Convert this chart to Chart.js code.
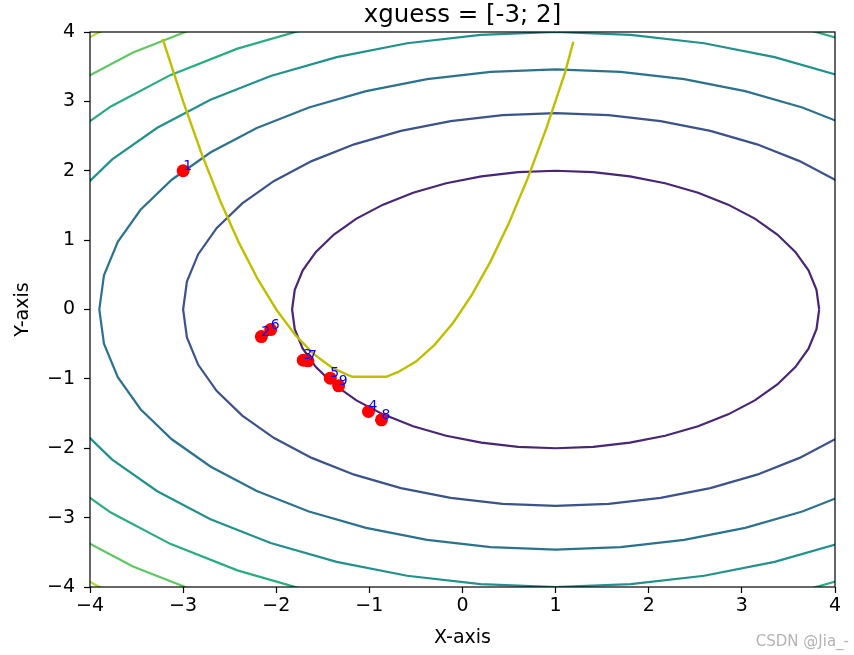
<!DOCTYPE html>
<html>
<head>
<meta charset="utf-8">
<script src="https://cdn.jsdelivr.net/npm/chart.js@4"></script>
<style>
html,body{margin:0;padding:0;background:#fff;}
#wrap{width:854px;height:655px;position:relative;}
</style>
</head>
<body>
<div id="wrap"><canvas id="c" width="854" height="655"></canvas></div>
<script>
// ---- data ----
const titleText = "xguess = [-3; 2]";
const xTicks = [-4, -3, -2, -1, 0, 1, 2, 3, 4];
const yTicks = [-4, -3, -2, -1, 0, 1, 2, 3, 4];

// contour levels of the ellipses centred at (1, 0)
const contourLevels = [8, 16, 24, 32, 40, 48, 56];
const contourCenter = [1, 0];
const contourSemiX = [2.83, 4.0, 4.9, 5.66, 6.32, 6.93, 7.48];
const contourSemiY = [2.0, 2.83, 3.46, 4.0, 4.47, 4.9, 5.29];
const contourColors = ["#482576", "#3b528b", "#2c728e", "#21918c", "#27ad81", "#5ec962", "#aadc32"];

// yellow constraint curve
const curveX = [-3.22, -3.0, -2.8, -2.6, -2.4, -2.2, -2.0, -1.8, -1.6, -1.4, -1.24, -1.18, -0.82, -0.69, -0.5, -0.3, -0.1, 0.1, 0.3, 0.5, 0.7, 0.9, 1.1, 1.19];
const curveY = [3.9, 3.0, 2.24, 1.56, 0.96, 0.44, 0.0, -0.36, -0.64, -0.84, -0.94, -0.97, -0.97, -0.9, -0.75, -0.51, -0.19, 0.21, 0.69, 1.25, 1.89, 2.61, 3.41, 3.86];

// iterates
const iterLabels = ["1", "2", "3", "4", "5", "6", "7", "8", "9"];
const iterX = [-3.0, -2.16, -1.71, -1.01, -1.42, -2.06, -1.66, -0.87, -1.33];
const iterY = [2.0, -0.39, -0.73, -1.47, -0.99, -0.29, -0.74, -1.59, -1.10];

// ---- build datasets ----
const SEG = 44;
const datasets = [];
contourLevels.forEach((lev, i) => {
  const pts = [];
  for (let k = 0; k <= SEG; k++) {
    const t = 2 * Math.PI * k / SEG;
    pts.push({x: contourCenter[0] + contourSemiX[i] * Math.cos(t), y: contourCenter[1] + contourSemiY[i] * Math.sin(t)});
  }
  datasets.push({label: "level " + lev, data: pts, showLine: true, borderColor: contourColors[i], borderWidth: 2.2,
    pointRadius: 0, tension: 0, clip: 0, order: 3});
});
datasets.push({label: "curve", data: curveX.map((x, i) => ({x, y: curveY[i]})), showLine: true, borderColor: "#bfbf00",
  borderWidth: 2.4, pointRadius: 0, tension: 0, clip: 0, order: 2});
datasets.push({label: "iterates", data: iterX.map((x, i) => ({x, y: iterY[i]})), showLine: false,
  backgroundColor: "#ff0000", borderWidth: 0, pointRadius: 6.5, pointHoverRadius: 6.5, clip: 0, order: 1});

const minus = v => String(v).replace('-', '\u2212');

const extras = {
  id: 'extras',
  afterDatasetsDraw(chart) {
    const {ctx, chartArea: a, scales} = chart;
    ctx.save();
    // frame
    ctx.strokeStyle = '#000';
    ctx.lineWidth = 1.2;
    ctx.strokeRect(a.left, a.top, a.right - a.left, a.bottom - a.top);
    // iterate labels
    ctx.fillStyle = '#0000ff';
    ctx.font = '14px "DejaVu Sans"';
    ctx.textAlign = 'left';
    ctx.textBaseline = 'alphabetic';
    iterLabels.forEach((s, i) => {
      ctx.fillText(s, scales.x.getPixelForValue(iterX[i]), scales.y.getPixelForValue(iterY[i]) - 1);
    });
    // title centred over the plot area
    ctx.fillStyle = '#000';
    ctx.font = '24.5px "DejaVu Sans"';
    ctx.textAlign = 'center';
    ctx.fillText(titleText, (a.left + a.right) / 2, 22);
    // watermark
    ctx.fillStyle = '#b4b4b4';
    ctx.font = '15px "DejaVu Sans"';
    ctx.textAlign = 'right';
    ctx.fillText('CSDN @Jia_-', 849, 646);
    ctx.restore();
  }
};

new Chart(document.getElementById('c'), {
  type: 'scatter',
  data: {datasets},
  plugins: [extras],
  options: {
    responsive: false,
    animation: false,
    events: [],
    layout: {padding: {left: 0, right: 19, top: 32, bottom: 0}},
    plugins: {
      legend: {display: false},
      tooltip: {enabled: false},
      title: {display: false}
    },
    scales: {
      x: {
        type: 'linear', min: -4, max: 4,
        afterBuildTicks: s => { s.ticks = xTicks.map(v => ({value: v})); },
        afterFit: s => { s.height = 68; },
        grid: {drawOnChartArea: false, drawTicks: true, tickLength: 6, color: '#000', tickColor: '#000', tickWidth: 1.2},
        border: {display: false},
        ticks: {color: '#000', font: {family: 'DejaVu Sans', size: 19}, padding: 2, callback: minus, maxRotation: 0, autoSkip: false},
        title: {display: true, text: 'X-axis', color: '#000', font: {family: 'DejaVu Sans', size: 19}, padding: {top: 0, bottom: 6}}
      },
      y: {
        type: 'linear', min: -4, max: 4,
        afterBuildTicks: s => { s.ticks = yTicks.map(v => ({value: v})); },
        afterFit: s => { s.width = 90; },
        grid: {drawOnChartArea: false, drawTicks: true, tickLength: 6, color: '#000', tickColor: '#000', tickWidth: 1.2},
        border: {display: false},
        ticks: {color: '#000', font: {family: 'DejaVu Sans', size: 19}, padding: 9, callback: minus, autoSkip: false},
        title: {display: true, text: 'Y-axis', color: '#000', font: {family: 'DejaVu Sans', size: 19}, padding: {top: 12, bottom: 0}}
      }
    }
  }
});
</script>
</body>
</html>
